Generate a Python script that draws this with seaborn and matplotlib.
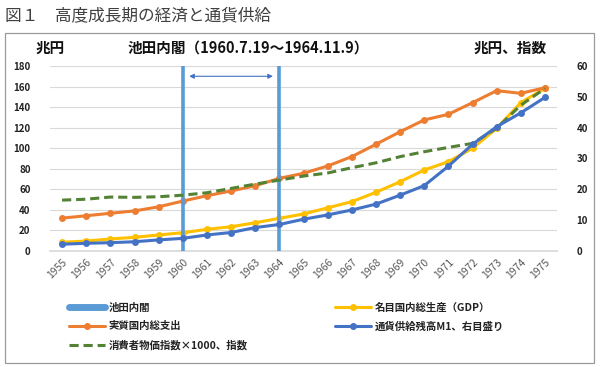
import numpy as np
import pandas as pd
import seaborn as sns
import matplotlib
matplotlib.use("Agg")
import matplotlib.pyplot as plt
from matplotlib.lines import Line2D
from matplotlib.patches import Rectangle

sns.set_theme(style="white")
plt.rcParams['font.family'] = ['Noto Sans CJK JP', 'DejaVu Sans']

years = [str(y) for y in range(1955, 1976)]
# left axis (兆円)
real_gdp = [32, 34.3, 36.7, 39, 43, 48.6, 53.8, 58.4, 63.5, 70.7, 75.6,
            82.7, 91.8, 103.8, 116, 127.5, 133, 144.3, 156, 153.4, 158.9]
nominal_gdp = [8.5, 9.7, 11.7, 13.3, 15.6, 17.8, 21.1, 23.6, 27.5, 31.8, 36,
               42, 48, 57.1, 67.4, 78.8, 86.9, 99.9, 119.4, 144.3, 158.3]
# right axis (兆円、指数)
money_m1 = [2.2, 2.5, 2.7, 3.0, 3.6, 4.1, 5.2, 6.0, 7.6, 8.6, 10.3,
            11.7, 13.3, 15.2, 18.1, 21.2, 27.5, 34.6, 40.3, 44.8, 49.8]
cpi = [16.5, 16.8, 17.5, 17.4, 17.6, 18.1, 18.9, 20.3, 21.7, 23.0, 24.3,
       25.3, 27.0, 28.6, 30.6, 32.2, 33.6, 34.9, 39.8, 47.3, 52.7]
ikeda = ["1960", "1964"]

df = pd.DataFrame({"year": years, "real": real_gdp, "nominal": nominal_gdp,
                   "m1": money_m1, "cpi": cpi})

c_blue_bar = "#5B9BD5"
c_orange = "#ED7D31"
c_yellow = "#FFC000"
c_blue = "#4472C4"
c_green = "#548235"

fig = plt.figure(figsize=(6, 3.67), dpi=100)
fig.patches.append(Rectangle((5 / 600, 1 - 363 / 367), 589 / 600, 330 / 367,
                             transform=fig.transFigure, fill=False,
                             edgecolor="#9A9A9A", lw=0.9))
ax = fig.add_axes([50 / 600, 1 - 251 / 367, 507 / 600, 185 / 367])
ax2 = ax.twinx()

sns.lineplot(data=df, x="year", y="nominal", ax=ax, color=c_yellow, lw=2.2,
             marker="o", markersize=5, markeredgewidth=0, sort=False)
sns.lineplot(data=df, x="year", y="real", ax=ax, color=c_orange, lw=2.2,
             marker="o", markersize=5, markeredgewidth=0, sort=False)
sns.lineplot(data=df, x="year", y="cpi", ax=ax2, color=c_green, lw=2.2,
             linestyle=(0, (3, 1.6)), sort=False)
sns.lineplot(data=df, x="year", y="m1", ax=ax2, color=c_blue, lw=2.2,
             marker="o", markersize=5, markeredgewidth=0, sort=False)

pos = [years.index(y) for y in ikeda]
ax.vlines(pos, 0, 180, color=c_blue_bar, lw=2.6, zorder=5)
ax.annotate("", xy=(pos[0] + 0.15, 170), xytext=(pos[1] - 0.15, 170),
            arrowprops=dict(arrowstyle="<|-|>", color=c_blue, lw=0.8,
                            mutation_scale=7))

ax.set_xlim(-0.5, len(years) - 0.5)
ax.set_ylim(0, 180)
ax2.set_ylim(0, 60)
ax.set_yticks(np.arange(0, 181, 20))
ax2.set_yticks(np.arange(0, 61, 10))
ax.grid(axis="y", color="#D9D9D9", lw=0.8)
ax.set_axisbelow(True)
for a in (ax, ax2):
    a.set_xlabel("")
    a.set_ylabel("")
    for s in a.spines.values():
        s.set_visible(False)
ax.spines["bottom"].set_visible(True)
ax.spines["bottom"].set_color("#D9D9D9")

ax.tick_params(axis="y", labelsize=7, pad=14, length=0, colors="#222222")
ax2.tick_params(axis="y", labelsize=7, pad=14, length=0, colors="#222222")
for t in ax.get_yticklabels() + ax2.get_yticklabels():
    t.set_fontweight("bold")
ax.tick_params(axis="x", labelsize=7.5, length=0, colors="#595959", pad=4)
plt.setp(ax.get_xticklabels(), rotation=45, ha="right", rotation_mode="anchor")

fig.text(0.008, 0.955, "図１　高度成長期の経済と通貨供給", fontsize=12,
         color="#404040", va="center")
fig.text(50 / 600, 1 - 48 / 367, "兆円", fontsize=10.5, fontweight="bold",
         ha="center", va="center", color="#111111")
fig.text(128 / 600, 1 - 48 / 367, "池田内閣（1960.7.19～1964.11.9）",
         fontsize=10.5, fontweight="bold", ha="left", va="center",
         color="#111111")
fig.text(510 / 600, 1 - 48 / 367, "兆円、指数", fontsize=10.5,
         fontweight="bold", ha="center", va="center", color="#111111")

handles = [
    Line2D([], [], color=c_blue_bar, lw=5),
    Line2D([], [], color=c_orange, lw=2.2, marker="o", markersize=4),
    Line2D([], [], color=c_green, lw=2.2, linestyle=(0, (3, 1.6))),
    Line2D([], [], color=c_yellow, lw=2.2, marker="o", markersize=4),
    Line2D([], [], color=c_blue, lw=2.2, marker="o", markersize=4),
]
labels = ["池田内閣", "実質国内総支出", "消費者物価指数×1000、指数",
          "名目国内総生産（GDP）", "通貨供給残高M1、右目盛り"]
leg = fig.legend(handles, labels, ncol=2, loc="upper left",
                 bbox_to_anchor=(60 / 600, 1 - 293 / 367), frameon=False,
                 fontsize=7.5, handlelength=3.4, labelspacing=0.85,
                 columnspacing=8.4, handletextpad=0.4)
for t in leg.get_texts():
    t.set_fontweight("bold")
    t.set_color("#222222")

fig.savefig("out.png", dpi=100)
